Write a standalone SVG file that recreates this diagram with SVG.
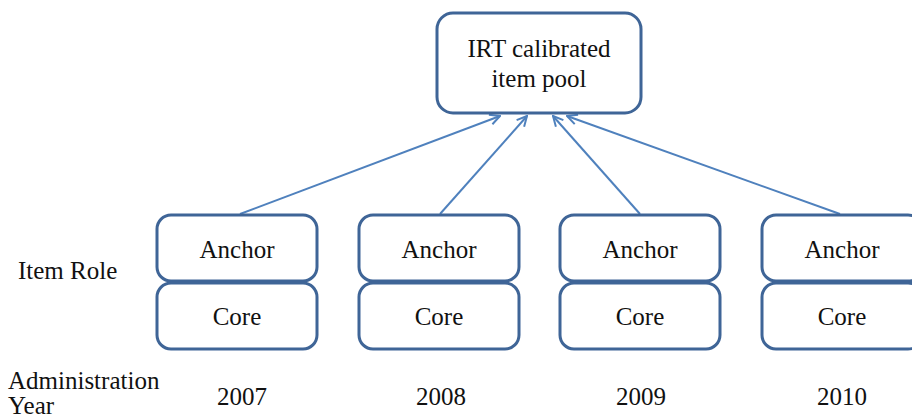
<svg xmlns="http://www.w3.org/2000/svg" width="912" height="419" viewBox="0 0 912 419">
<style>
.box{fill:#fff;stroke:#3F6597;stroke-width:3}
.t{font-family:"Liberation Serif","DejaVu Serif",serif;font-size:25px;fill:#111}
.c{text-anchor:middle}
.con{stroke:#4F81BD;stroke-width:2;fill:none;marker-end:url(#ah)}
</style>
<defs>
<marker id="ah" viewBox="0 0 12 12" refX="11" refY="6" markerWidth="12" markerHeight="12" markerUnits="userSpaceOnUse" orient="auto">
<path d="M1,1 L11,6 L1,11" fill="none" stroke="#4F81BD" stroke-width="2"/>
</marker>
</defs>
<rect width="912" height="419" fill="#fff"/>
<g id="connectors">
<line class="con" x1="240" y1="214" x2="500" y2="116"/>
<line class="con" x1="440" y1="214" x2="527" y2="116"/>
<line class="con" x1="640" y1="214" x2="553" y2="116"/>
<line class="con" x1="840" y1="214" x2="567" y2="116"/>
</g>
<g id="pool">
<rect class="box" x="437" y="13" width="204" height="100" rx="16"/>
<text class="t c" x="539" y="57">IRT calibrated</text>
<text class="t c" x="539" y="87">item pool</text>
</g>
<g id="label-role"><text class="t" x="18" y="279">Item Role</text></g>
<g id="label-year"><text class="t" x="8" y="389">Administration</text><text class="t" x="8" y="414">Year</text></g>
<g id="y2007">
<rect class="box" x="157" y="215" width="160" height="66" rx="14"/>
<text class="t c" x="237" y="258">Anchor</text>
<rect class="box" x="157" y="283" width="160" height="66" rx="14"/>
<text class="t c" x="237" y="325">Core</text>
<text class="t c" x="242" y="405">2007</text>
</g>
<g id="y2008">
<rect class="box" x="359" y="215" width="160" height="66" rx="14"/>
<text class="t c" x="439" y="258">Anchor</text>
<rect class="box" x="359" y="283" width="160" height="66" rx="14"/>
<text class="t c" x="439" y="325">Core</text>
<text class="t c" x="441" y="405">2008</text>
</g>
<g id="y2009">
<rect class="box" x="560" y="215" width="160" height="66" rx="14"/>
<text class="t c" x="640" y="258">Anchor</text>
<rect class="box" x="560" y="283" width="160" height="66" rx="14"/>
<text class="t c" x="640" y="325">Core</text>
<text class="t c" x="641" y="405">2009</text>
</g>
<g id="y2010">
<rect class="box" x="762" y="215" width="160" height="66" rx="14"/>
<text class="t c" x="842" y="258">Anchor</text>
<rect class="box" x="762" y="283" width="160" height="66" rx="14"/>
<text class="t c" x="842" y="325">Core</text>
<text class="t c" x="842" y="405">2010</text>
</g>
</svg>
